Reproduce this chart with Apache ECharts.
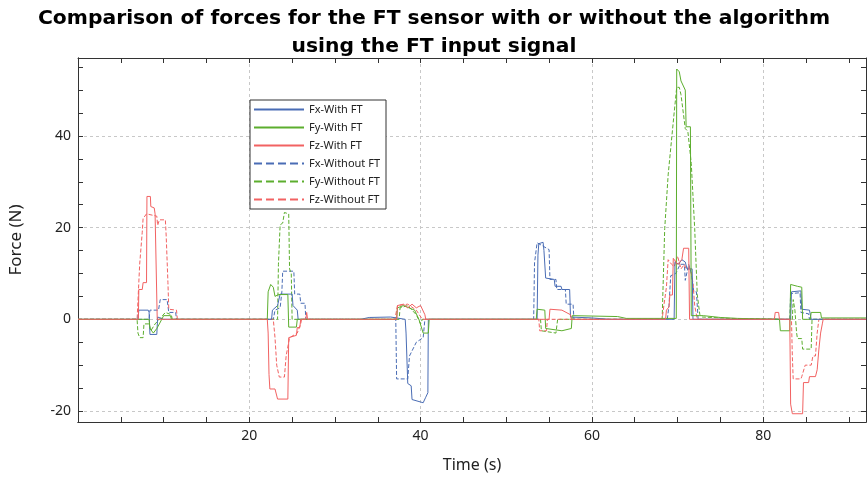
<!DOCTYPE html>
<html>
<head>
<meta charset="utf-8">
<script src="https://cdn.jsdelivr.net/npm/echarts@6/dist/echarts.min.js"></script>
<style>
html,body{margin:0;padding:0;background:#fff;}
#chart{width:868px;height:478px;}
</style>
</head>
<body>
<div id="chart"></div>
<script>
// force traces, [time (s), force (N)]
var fxWith = [[0,0],[7.0,0],[7.1,2],[8.2,2],[8.3,1.5],[8.4,-3.3],[9.2,-3.3],[9.3,0.5],[10.0,0],
    [22.6,0],[22.7,2],[23.3,3],[23.6,5.5],[25.0,5.5],[25.1,3],[25.6,2],[25.7,0],
    [33,0],[34,0.4],[36.5,0.5],[38.2,0],[38.3,-3],[38.5,-14],[38.9,-14.5],[39.0,-17.5],[40.3,-18.2],[40.6,-17],[40.85,-16],[40.9,0],
    [53.6,0],[53.7,14],[53.8,16.5],[54.3,16.8],[54.4,15],[54.6,9],[55.6,8.7],[55.7,7.2],[56.4,7.2],[56.5,6.5],[57.4,6.5],[57.5,0.5],[60,0.3],[62,0],
    [69.6,0],[69.7,12.6],[70.1,12],[70.5,13],[70.9,12.5],[71.1,11],[71.7,11],[71.8,0],
    [83.2,0],[83.3,6],[84.4,6.2],[84.5,2.2],[85.4,2],[85.6,0],[92,0]];
var fyWith = [[0,0],[8.3,0],[8.4,-2],[8.8,-3],[9.2,-2],[9.5,-1],[10.0,0.8],[10.8,0.8],[10.9,0],
    [22.1,0],[22.2,6],[22.5,7.6],[22.8,7],[23.0,5],[23.4,5.4],[24.5,5.4],[24.6,-1.7],[25.5,-1.7],[25.6,0],
    [37.2,0],[37.3,2.5],[38.0,3],[39.3,2],[39.8,0],[40.3,-3],[40.9,-3],[41.0,0],
    [53.5,0],[53.6,2.2],[54.5,2],[54.6,-2],[56.5,-2.5],[57.6,-2],[57.7,0.8],[63,0.6],[64,0.2],
    [69.85,0.2],[69.9,54.6],[70.2,54],[70.4,52],[70.9,50],[71.0,42],[71.5,42],[71.6,0.8],[73,0.8],[75,0.4],[77,0.2],
    [81.9,0],[82.0,-2.5],[83.1,-2.5],[83.2,7.6],[84.0,7.2],[84.5,7],[84.6,0],[85.5,0],[85.6,1.5],[86.7,1.5],[86.8,0.3],[92,0.3]];
var fzWith = [[0,0],[7.05,0],[7.1,6.5],[7.5,6.5],[7.6,8],[8.0,8],[8.05,26.8],[8.45,26.8],[8.5,24.6],[8.9,24.3],[9.0,23],[9.2,23],[9.25,0],
    [22.1,0],[22.2,-3],[22.3,-12],[22.4,-15.2],[23.0,-15.2],[23.3,-17.4],[24.5,-17.4],[24.6,-4],[25.5,-3.5],[25.6,-1.8],[25.9,-1.8],[26.0,0],[26.6,0],[26.7,1.5],[26.8,0],
    [37.2,0],[37.3,3],[38.0,3.3],[38.5,2.5],[39.0,3.3],[39.5,2.5],[40.0,3],[40.5,1],[40.6,0],
    [55.0,0],[55.1,2.2],[56.5,2],[57.5,1],[57.6,0],
    [68.6,0],[68.7,2],[69.0,2.7],[69.1,5.3],[69.4,5.3],[69.5,13.3],[70.0,12],[70.5,13],[70.7,15.5],[71.3,15.5],[71.4,0],
    [81.3,0],[81.4,1.5],[81.8,1.5],[81.9,0],[83.1,0],[83.2,-18.5],[83.4,-20.6],[84.6,-20.6],[84.7,-13.8],[85.3,-13.8],[85.4,-12.5],[86.1,-12.5],[86.3,-11],[86.5,-6.5],[86.7,-3],[86.9,-1],[87.0,0],[92,0]];
var fxWithout = [[0,0],[8.3,0],[8.4,2],[9.4,2],[9.6,4.3],[10.4,4.3],[10.6,1.5],[11.4,1.5],[11.5,0],
    [22.8,0],[23.0,2],[23.6,2.5],[23.8,6],[23.9,10.5],[25.2,10.5],[25.3,5.5],[25.9,5.5],[26.0,3.5],[26.5,3.5],[26.6,0],
    [37.1,0],[37.2,-13],[38.5,-13],[38.7,-8],[39.5,-5],[40.3,-4],[40.5,0],
    [53.2,0],[53.3,12.3],[53.6,16.7],[55.0,15.2],[55.1,8.7],[55.8,8.7],[55.9,6.5],[56.9,6.5],[57.0,3.3],[57.8,3.3],[57.9,0],
    [68.8,0],[69.0,3],[69.2,9.5],[69.8,10],[70.3,12],[70.8,12],[70.9,8.5],[71.1,8.5],[71.3,12],[71.6,10],[71.9,6],[72.2,6],[72.4,0],
    [83.1,0],[83.2,5.6],[84.3,5.8],[84.4,1.5],[85.3,1.2],[85.4,0],[92,0]];
var fyWithout = [[0,0],[6.9,0],[7.0,-3],[7.2,-4],[7.6,-4],[7.7,-1],[8.3,-1],[8.5,-2.5],[9.0,-1],[9.5,0],[10.2,1.5],[10.9,1],[11.0,0],
    [23.3,0],[23.4,12],[23.6,20.6],[23.9,21],[24.1,23.3],[24.6,23],[24.7,11],[24.9,10],[25.0,0],
    [37.5,0],[37.6,2.5],[38.5,3],[39.5,1],[40.0,-1],[40.2,0],
    [54.0,0],[54.1,-2.5],[55.8,-3],[56.0,0],
    [68.2,0],[68.5,19.8],[68.9,31.5],[69.6,45],[69.9,50.6],[70.2,50.6],[70.4,49],[70.9,41.6],[71.2,41],[71.6,34],[72.0,19.8],[72.3,5.4],[72.6,1],[72.9,0.5],[74,0.4],[76,0.2],
    [83.4,0],[83.5,4.3],[83.7,2],[83.9,-3],[84.0,-4.2],[84.5,-4.2],[84.6,-6.5],[85.6,-6.5],[85.7,0],[92,0]];
var fzWithout = [[0,0],[6.9,0],[7.0,4],[7.2,12],[7.5,19],[7.6,22],[8.0,23],[9.2,22.5],[9.3,20.5],[9.5,21.7],[10.2,21.7],[10.3,18],[10.5,8],[10.6,2.2],[11.5,2],[11.6,0],
    [22.8,0],[23.0,-4],[23.2,-10],[23.5,-12.6],[24.1,-12.6],[24.3,-8],[24.7,-4],[25.6,-3],[26.0,-1],[26.1,0],
    [37.0,0],[37.3,3],[38.5,3.3],[39.5,2],[40.2,0],
    [53.8,0],[53.9,-2.5],[54.7,-2.5],[54.8,0],
    [68.2,0],[68.4,3],[68.7,7],[68.9,13],[69.3,12],[69.6,11.5],[70.0,13.8],[70.4,11],[70.8,12],[71.0,11],[71.5,11],[71.8,8],[72.0,3],[72.3,0],
    [83.3,0],[83.4,-8],[83.5,-13],[84.4,-13],[84.5,-12.5],[84.9,-10],[85.6,-10],[85.8,-8],[86.1,-8],[86.3,-3],[86.5,0],[92,0]];

var xMajor = [20, 40, 60, 80];
var xMinor = [5,10,15,20,25,30,35,40,45,50,55,60,65,70,75,80,85,90];
var yMajor = [-20, 0, 20, 40];
var yMinor = [-20,-15,-10,-5,0,5,10,15,20,25,30,35,40,45,50,55];

var blue = '#4a6db5', green = '#5cae2e', red = '#f26262';

function trace(name, data, color, type){
    return {
        name: name,
        type: 'line',
        data: data,
        showSymbol: false,
        symbol: 'none',
        animation: false,
        lineStyle: {color: color, width: 1, type: type},
        itemStyle: {color: color}
    };
}

function axisCommon(pos, ticks, labels, split){
    return {
        type: 'value',
        position: pos,
        axisLine: {show: true, onZero: false, lineStyle: {color: '#333', width: 1}},
        axisTick: {show: true, inside: true, length: 5, customValues: ticks, lineStyle: {color: '#333'}},
        axisLabel: labels ? {show: true, customValues: labels, color: '#222', fontSize: 14, fontFamily: 'Noto Sans', margin: 7} : {show: false},
        splitLine: split ? {show: true, lineStyle: {color: '#c8c8c8', type: [3, 3]}} : {show: false}
    };
}

var chart = echarts.init(document.getElementById('chart'));
var xa0 = axisCommon('bottom', xMajor, xMajor, true);
xa0.name = 'Time (s)'; xa0.nameLocation = 'middle'; xa0.nameGap = 35;
xa0.nameTextStyle = {fontSize: 16, color: '#222', fontFamily: 'Noto Sans'};
var ya0 = axisCommon('left', yMajor, yMajor, true);
ya0.name = 'Force (N)'; ya0.nameLocation = 'middle'; ya0.nameGap = 53;
ya0.nameTextStyle = {fontSize: 17, color: '#222', fontFamily: 'Noto Sans'};

var xAxes = [xa0, axisCommon('bottom', xMinor, null, false), axisCommon('top', xMinor, null, false)];
var yAxes = [ya0, axisCommon('left', yMinor, null, false), axisCommon('right', yMinor, null, false)];
xAxes.forEach(function(a){ a.min = 0; a.max = 92; });
yAxes.forEach(function(a){ a.min = -22.4; a.max = 57; });

var option = {
    backgroundColor: '#fff',
    title: {
        text: 'Comparison of forces for the FT sensor with or without the algorithm\nusing the FT input signal',
        left: 'center',
        top: 0,
        textStyle: {fontSize: 20.3, fontWeight: 'bold', color: '#000', fontFamily: 'DejaVu Sans', lineHeight: 28}
    },
    legend: {
        orient: 'vertical',
        left: 250,
        top: 100,
        padding: [4, 6, 4, 3],
        itemWidth: 50,
        itemHeight: 10,
        itemGap: 7,
        backgroundColor: '#fff',
        borderColor: '#333',
        borderWidth: 1,
        borderRadius: 0,
        itemStyle: {opacity: 0},
        textStyle: {fontSize: 11, color: '#222', fontFamily: 'Noto Sans'},
        data: ['Fx-With FT', 'Fy-With FT', 'Fz-With FT', 'Fx-Without FT', 'Fy-Without FT', 'Fz-Without FT']
    },
    grid: {left: 78, right: 2, top: 58, bottom: 55},
    xAxis: xAxes,
    yAxis: yAxes,
    series: [
        trace('Fx-Without FT', fxWithout, blue, 'dashed'),
        trace('Fy-Without FT', fyWithout, green, 'dashed'),
        trace('Fz-Without FT', fzWithout, red, 'dashed'),
        trace('Fx-With FT', fxWith, blue, 'solid'),
        trace('Fy-With FT', fyWith, green, 'solid'),
        trace('Fz-With FT', fzWith, red, 'solid')
    ]
};

chart.setOption(option);
</script>
</body>
</html>
